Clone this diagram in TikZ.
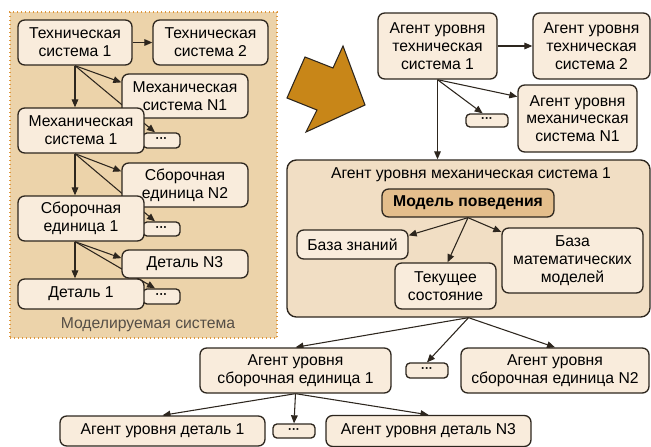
\documentclass[tikz,border=0pt]{standalone}
\usepackage{fontspec}
\setmainfont{Liberation Sans}
\usetikzlibrary{calc, positioning, arrows.meta}
\definecolor{cream}{RGB}{249,236,220}
\definecolor{panelbeige}{RGB}{236,211,170}
\definecolor{agentbeige}{RGB}{241,222,196}
\definecolor{modeltan}{RGB}{228,190,140}
\definecolor{edgebrown}{RGB}{45,38,30}
\definecolor{dotorange}{RGB}{222,150,60}
\definecolor{arrowgold}{RGB}{200,134,24}
\definecolor{labelgray}{RGB}{85,78,70}
\newcommand{\boxfont}{\fontsize{11.8}{13.3}\selectfont}
\pgfdeclarelayer{panel}
\pgfdeclarelayer{links}
\pgfsetlayers{panel,links,main}
\tikzset{
    sysbox/.style={rectangle, rounded corners=5pt, draw=edgebrown, line width=1pt, fill=cream, align=center, inner sep=1pt, font=\boxfont},
    dotsbox/.style={sysbox, rounded corners=3pt, font=\fontsize{9}{10}\selectfont\bfseries},
    sz/.style 2 args={minimum width=#1*0.75pt, minimum height=#2*0.75pt},
    linkarrow/.style={-{Triangle[length=6pt, width=5pt]}, line width=0.8pt, draw=edgebrown}
}

\begin{document}
\begin{tikzpicture}[x=0.75pt, y=-0.75pt]
    \useasboundingbox (0,0) rectangle (651,447);

    % modelled system
    \node[dotsbox, sz={37}{15}] (dots1) at (161.5,140.5) {···};
    \node[dotsbox, sz={37}{14}] (dots2) at (161.5,229) {···};
    \node[dotsbox, sz={37}{15}] (dots3) at (161.5,296.5) {···};
    \node[sysbox, sz={114}{45}] (ts1) at (75,42.5) {Техническая\\система 1};
    \node[sysbox, sz={115}{45}] (ts2) at (210.5,42.5) {Техническая\\система 2};
    \node[sysbox, sz={126}{44}] (msN1) at (185,96) {Механическая\\система N1};
    \node[sysbox, sz={126}{45}] (ms1) at (81,130.5) {Механическая\\система 1};
    \node[sysbox, sz={126}{44}] (seN2) at (185,185) {Сборочная\\единица N2};
    \node[sysbox, sz={126}{45}] (se1) at (81,218.5) {Сборочная\\единица 1};
    \node[sysbox, sz={126}{28}] (dtN3) at (185,264) {Деталь N3};
    \node[sysbox, sz={126}{30}] (dt1) at (81,294) {Деталь 1};
    \node[text=labelgray, font=\boxfont] (panellabel) at (148,325) {Моделируемая система};

    \begin{pgfonlayer}{panel}
        \node[draw=dotorange, dotted, line width=1pt, fill=panelbeige, sz={267}{326}] (panel) at (143.5,175) {};
        \node[sysbox, rounded corners=7pt, fill=agentbeige, sz={363}{157}] (ams1) at (468.5,238.5) {};
    \end{pgfonlayer}

    % transition arrow
    \draw[fill=arrowgold, draw=edgebrown, line width=0.8pt] (343,46) -- (365,105) -- (306,132) -- (317,110) -- (287,98) -- (305,57) -- (333,68) -- cycle;

    % agents
    \node[sysbox, sz={119}{66}] (ats1) at (437.5,46) {Агент уровня\\техническая\\система 1};
    \node[sysbox, sz={117}{66}] (ats2) at (591.5,46) {Агент уровня\\техническая\\система 2};
    \node[sysbox, sz={119}{67}] (amsN1) at (577.5,118.5) {Агент уровня\\механическая\\система N1};
    \node[dotsbox, sz={42}{13}] (adots1) at (487,120.5) {···};
    \node[font=\boxfont] (ams1title) at (471,175) {Агент уровня механическая система 1};
    \node[sysbox, fill=modeltan, font=\boxfont\bfseries, sz={172}{28}] (model) at (468,203) {Модель поведения};
    \node[sysbox, sz={111}{29}] (kb) at (352.5,244.5) {База знаний};
    \node[sysbox, sz={101}{46}] (cur) at (445.5,286) {Текущее\\состояние};
    \node[sysbox, sz={141}{65}] (mm) at (572.5,260.5) {База\\математических\\моделей};
    \node[sysbox, sz={191}{45}] (ase1) at (295.5,370.5) {Агент уровня\\сборочная единица 1};
    \node[dotsbox, sz={42}{15}] (adots2) at (427,370.5) {···};
    \node[sysbox, sz={188}{45}] (aseN2) at (555,370.5) {Агент уровня\\сборочная единица N2};
    \node[sysbox, sz={205}{30}] (adt1) at (162.5,431) {Агент уровня деталь 1};
    \node[dotsbox, sz={42}{14}] (adots3) at (294,431) {···};
    \node[sysbox, sz={205}{31}] (adtN3) at (428.5,431) {Агент уровня деталь N3};

    \begin{pgfonlayer}{links}
        \draw[linkarrow] (ts1.east) -- (ts2.west);
        \draw[linkarrow] (ts1.south) -- (ts1.south |- ms1.north);
        \draw[linkarrow] (ts1.south) -- ($(msN1.north west)!0.2!(msN1.south west)$);
        \draw[linkarrow] (ts1.south) -- ($(dots1.north west)!0.33!(dots1.north east)$);
        \draw[linkarrow] (ts1.south |- ms1.south) -- (ts1.south |- se1.north);
        \draw[linkarrow] (ts1.south |- ms1.south) -- ($(seN2.north west)!0.2!(seN2.south west)$);
        \draw[linkarrow] (ts1.south |- ms1.south) -- ($(dots2.north west)!0.33!(dots2.north east)$);
        \draw[linkarrow] (ts1.south |- se1.south) -- (ts1.south |- dt1.north);
        \draw[linkarrow] (ts1.south |- se1.south) -- ($(dtN3.north west)!0.3!(dtN3.south west)$);
        \draw[linkarrow] (ts1.south |- se1.south) -- ($(dots3.north west)!0.33!(dots3.north east)$);

        \draw[linkarrow] (ats1.east) -- (ats2.west);
        \draw[linkarrow] (ats1.south) -- (ats1.south |- ams1.north);
        \draw[linkarrow] (ats1.south) -- ($(amsN1.north west)!0.18!(amsN1.south west)$);
        \draw[linkarrow] (ats1.south) -- ($(adots1.north west)!0.4!(adots1.north east)$);
        \draw[linkarrow] (model.south) -- ($(kb.north east)!0.2!(kb.south east)$);
        \draw[linkarrow] (model.south) -- ($(cur.north west)!0.52!(cur.north east)$);
        \draw[linkarrow] (model.south) -- ($(mm.north west)!0.07!(mm.south west)$);
        \draw[linkarrow] (ams1.south) -- (ase1.north);
        \draw[linkarrow] (ams1.south) -- (adots2.north);
        \draw[linkarrow] (ams1.south) -- (aseN2.north);
        \draw[linkarrow] (ase1.south) -- (adt1.north);
        \draw[linkarrow] (ase1.south) -- (adots3.north);
        \draw[linkarrow] (ase1.south) -- (adtN3.north);
    \end{pgfonlayer}
\end{tikzpicture}
\end{document}
